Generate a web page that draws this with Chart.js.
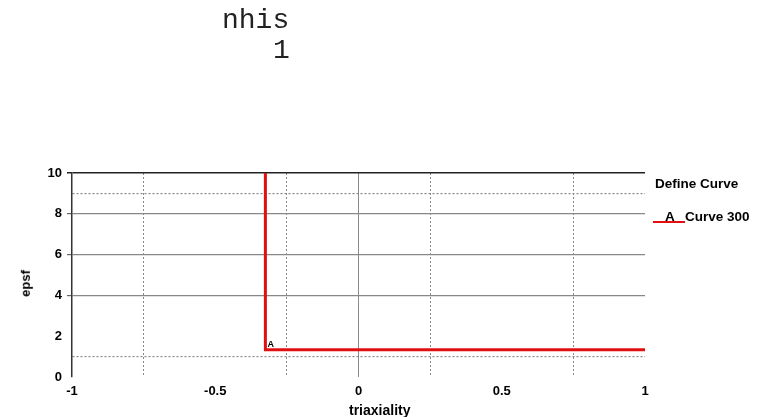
<!DOCTYPE html>
<html>
<head>
<meta charset="utf-8">
<script src="https://cdn.jsdelivr.net/npm/chart.js@4/dist/chart.umd.min.js"></script>
<style>
    html, body { margin: 0; padding: 0; background: #fff; }
    #wrap { position: relative; width: 771px; height: 417px; overflow: hidden; }
    #chart { position: absolute; left: 0; top: 0; }
    .txt { position: absolute; white-space: nowrap; color: #000; }
    .mono { font-family: "Liberation Mono", "Courier New", monospace; font-size: 28px; color: #222; }
    .sans { font-family: "Liberation Sans", Arial, sans-serif; font-weight: bold; }
</style>
</head>
<body>
<div id="wrap">
    <canvas id="chart" width="771" height="417"></canvas>
    <div class="txt mono" style="left:222px; top:5px;">nhis</div>
    <div class="txt mono" style="left:273px; top:35px;">1</div>
    <div class="txt sans" style="left:349px; top:402px; font-size:14px;">triaxiality</div>
    <div class="txt sans" style="left:12px; top:276px; font-size:13px; transform: rotate(-90deg);">epsf</div>
    <div class="txt sans" style="left:655px; top:176px; font-size:13.5px;">Define Curve</div>
    <div style="position:absolute; left:653px; top:221px; width:32px; height:2px; background:#e01010;"></div>
    <div class="txt sans" style="left:665px; top:209px; font-size:13.5px;">A</div>
    <div class="txt sans" style="left:685px; top:209px; font-size:13.5px;">Curve 300</div>
</div>
<script>
// Curve 300 data (triaxiality vs epsf)
const curveX = [-0.325, -0.325, 1];
const curveY = [10, 1.33, 1.33];

// tick positions
const xTicks = [-1, -0.75, -0.5, -0.25, 0, 0.25, 0.5, 0.75, 1];
const xLabels = [-1, -0.5, 0, 0.5, 1];
const yTicks = [0, 1, 2, 4, 6, 8, 9, 10];
const yLabels = [0, 2, 4, 6, 8, 10];

const dottedX = [-0.75, -0.25, 0.25, 0.75];
const dottedY = [1, 9];
const solidY = [4, 6, 8];

document.addEventListener('DOMContentLoaded', function() {
    initChart();
});

function initChart() {
    const ctx = document.getElementById('chart').getContext('2d');

    // small "A" marker at the curve's corner
    const markerLabel = {
        id: 'markerLabel',
        afterDatasetsDraw(chart) {
            const x = chart.scales.x.getPixelForValue(curveX[1]);
            const y = chart.scales.y.getPixelForValue(curveY[1]);
            const c = chart.ctx;
            c.save();
            c.fillStyle = '#000';
            c.font = 'bold 9px "Liberation Sans", Arial';
            c.textBaseline = 'bottom';
            c.fillText('A', x + 2, y - 1);
            c.restore();
        }
    };

    new Chart(ctx, {
        type: 'line',
        data: {
            datasets: [{
                label: 'Curve 300',
                data: curveX.map((x, i) => ({x: x, y: curveY[i]})),
                borderColor: '#e01010',
                borderWidth: 3,
                pointRadius: 0,
                tension: 0,
                fill: false
            }]
        },
        options: {
            responsive: false,
            animation: false,
            layout: { padding: { left: 0, top: 173, right: 126, bottom: 0 } },
            plugins: {
                legend: { display: false },
                tooltip: { enabled: false }
            },
            scales: {
                x: {
                    type: 'linear',
                    min: -1,
                    max: 1,
                    afterBuildTicks: function(scale) {
                        scale.ticks = xTicks.map(v => ({value: v}));
                    },
                    afterFit: function(scale) { scale.height = 40; },
                    ticks: {
                        padding: 7,
                        color: '#000',
                        font: { family: '"Liberation Sans", Arial', size: 13, weight: 'bold' },
                        maxRotation: 0,
                        autoSkip: false,
                        callback: function(value) {
                            return xLabels.includes(value) ? String(value) : '';
                        }
                    },
                    grid: {
                        drawTicks: false,
                        lineWidth: 1,
                        color: function(c) {
                            if (!c.tick) return 'rgba(0,0,0,0)';
                            const v = c.tick.value;
                            if (v === 0) return '#8a8a8a';
                            if (dottedX.includes(v)) return '#8a8a8a';
                            return 'rgba(0,0,0,0)';
                        }
                    },
                    border: {
                        display: false,
                        dash: function(c) {
                            if (c.tick && dottedX.includes(c.tick.value)) return [2, 2];
                            return [];
                        }
                    }
                },
                y: {
                    type: 'linear',
                    min: 0,
                    max: 10,
                    afterBuildTicks: function(scale) {
                        scale.ticks = yTicks.map(v => ({value: v}));
                    },
                    afterFit: function(scale) { scale.width = 72; },
                    ticks: {
                        padding: 5,
                        color: '#000',
                        font: { family: '"Liberation Sans", Arial', size: 13, weight: 'bold' },
                        autoSkip: false,
                        callback: function(value) {
                            return yLabels.includes(value) ? String(value) : '';
                        }
                    },
                    grid: {
                        tickLength: 5,
                        lineWidth: function(c) {
                            return (c.tick && c.tick.value === 10) ? 1.5 : 1.2;
                        },
                        color: function(c) {
                            if (!c.tick) return 'rgba(0,0,0,0)';
                            const v = c.tick.value;
                            if (v === 10) return '#222';
                            if (solidY.includes(v)) return '#888';
                            if (dottedY.includes(v)) return '#8a8a8a';
                            return 'rgba(0,0,0,0)';
                        },
                        tickColor: function(c) {
                            if (!c.tick) return 'rgba(0,0,0,0)';
                            const v = c.tick.value;
                            if (v === 10) return '#222';
                            if (solidY.includes(v)) return '#666';
                            return 'rgba(0,0,0,0)';
                        }
                    },
                    border: {
                        display: true,
                        color: '#333',
                        width: 1.5,
                        dash: function(c) {
                            if (c.tick && dottedY.includes(c.tick.value)) return [2, 2];
                            return [];
                        }
                    }
                }
            }
        },
        plugins: [markerLabel]
    });
}
</script>
</body>
</html>
